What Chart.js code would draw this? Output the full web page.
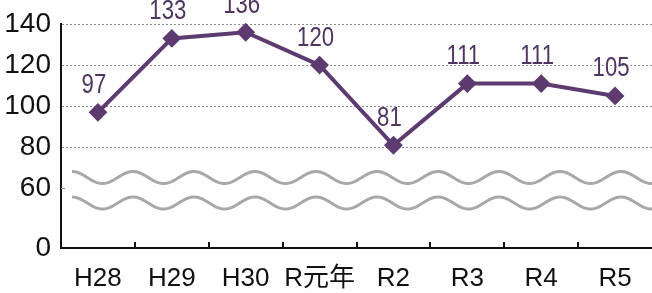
<!DOCTYPE html>
<html>
<head>
<meta charset="utf-8">
<script src="https://cdn.jsdelivr.net/npm/chart.js@4/dist/chart.umd.min.js"></script>
<style>
  html, body { margin: 0; padding: 0; background: #fff; }
  #wrap { width: 652px; height: 293px; }
</style>
</head>
<body>
<div id="wrap"><canvas id="lineChart"></canvas></div>
<script>
const years = ['H28', 'H29', 'H30', 'R元年', 'R2', 'R3', 'R4', 'R5'];
const counts = [97, 133, 136, 120, 81, 111, 111, 105];
const yTickValues = [0, 60, 80, 100, 120, 140];

// 0..60 is squeezed (broken axis), "0" sits at breakBase on the axis
const breakBase = 31;
const breakTop = 60;
function toAxis(v) {
  return v >= breakTop ? v : breakBase + v * (breakTop - breakBase) / breakTop;
}
function fromAxis(a) {
  return a >= breakTop ? a : Math.round((a - breakBase) * breakTop / (breakTop - breakBase));
}

const purple = '#5d3a6f';
const labelFont = "'Liberation Sans', Arial, 'Noto Sans CJK JP', sans-serif";

// wavy break marks
const breakWaves = {
  id: 'breakWaves',
  beforeDatasetsDraw(chart) {
    const {ctx, chartArea, scales: {y}} = chart;
    const x0 = chartArea.left + 11;
    ctx.save();
    ctx.strokeStyle = '#a8a8a8';
    ctx.lineWidth = 3;
    [65.3, 52.9].forEach(v => {
      const cy = y.getPixelForValue(v);
      ctx.beginPath();
      for (let x = x0; x <= chartArea.right + 2; x++) {
        const yy = cy - 6 * Math.cos((x - x0) / 61 * 2 * Math.PI);
        if (x === x0) ctx.moveTo(x, yy); else ctx.lineTo(x, yy);
      }
      ctx.stroke();
    });
    ctx.restore();
  }
};

// value labels + small tick marks
const pointLabels = {
  id: 'pointLabels',
  afterDatasetsDraw(chart) {
    const {ctx, chartArea, scales: {x, y}} = chart;
    const meta = chart.getDatasetMeta(0);
    ctx.save();
    ctx.font = '27px ' + labelFont;
    ctx.fillStyle = '#4f3461';
    ctx.textAlign = 'center';
    ctx.textBaseline = 'middle';
    meta.data.forEach((pt, i) => {
      // numbers in the source are a condensed face
      ctx.save();
      ctx.translate(pt.x - 4, pt.y - 27);
      ctx.scale(0.82, 1);
      ctx.fillText(String(counts[i]), 0, 0);
      ctx.restore();
    });

    ctx.strokeStyle = '#111';
    ctx.lineWidth = 2;
    const half = (x.getPixelForValue(1) - x.getPixelForValue(0)) / 2;
    for (let i = 0; i < years.length - 1; i++) {
      const bx = Math.round(x.getPixelForValue(i) + half);
      ctx.beginPath();
      ctx.moveTo(bx, chartArea.bottom);
      ctx.lineTo(bx, chartArea.bottom - 6);
      ctx.stroke();
    }
    ctx.strokeStyle = '#888';
    ctx.lineWidth = 1;
    const t60 = Math.round(y.getPixelForValue(60)) + 0.5;
    ctx.beginPath();
    ctx.moveTo(chartArea.left, t60);
    ctx.lineTo(chartArea.left + 4, t60);
    ctx.stroke();
    ctx.restore();
  }
};

var ctx = document.getElementById('lineChart').getContext('2d');
var lineChart = new Chart(ctx, {
  type: 'line',
  data: {
    labels: years,
    datasets: [{
      data: counts.map(toAxis),
      borderColor: purple,
      borderWidth: 4,
      backgroundColor: purple,
      pointStyle: 'rectRot',
      pointRadius: 8,
      pointBorderWidth: 2,
      pointBorderColor: purple,
      pointBackgroundColor: purple,
      tension: 0,
      clip: false,
    }],
  },
  options: {
    responsive: true,
    maintainAspectRatio: false,
    animation: false,
    events: [],
    layout: { autoPadding: false, padding: { top: 24, right: 0, bottom: 0, left: 0 } },
    plugins: {
      legend: { display: false },
      tooltip: { enabled: false },
    },
    scales: {
      x: {
        offset: true,
        grid: { display: false, drawTicks: false, offset: true },
        border: { display: true, color: '#111', width: 2 },
        ticks: {
          color: '#111',
          padding: 15,
          maxRotation: 0,
          autoSkip: false,
          font: { family: labelFont, size: 26, lineHeight: 1.2 },
        },
        afterFit: s => { s.height = 45; s.paddingLeft = 0; s.paddingRight = 0; },
      },
      y: {
        min: breakBase,
        max: 140,
        afterBuildTicks: s => {
          s.ticks = yTickValues.map(v => ({ value: toAxis(v) }));
        },
        grid: {
          drawTicks: false,
          lineWidth: 1,
          color: c => (c.tick && c.tick.value >= 80 ? '#8a8a8a' : 'rgba(0,0,0,0)'),
        },
        border: { display: true, color: '#111', width: 2, dash: [2, 2] },
        ticks: {
          color: '#111',
          padding: 10,
          font: { family: labelFont, size: 28 },
          callback: v => fromAxis(v),
        },
        afterFit: s => { s.width = 61; s.paddingTop = 0; s.paddingBottom = 0; },
      },
    },
  },
  plugins: [breakWaves, pointLabels],
});
</script>
</body>
</html>
